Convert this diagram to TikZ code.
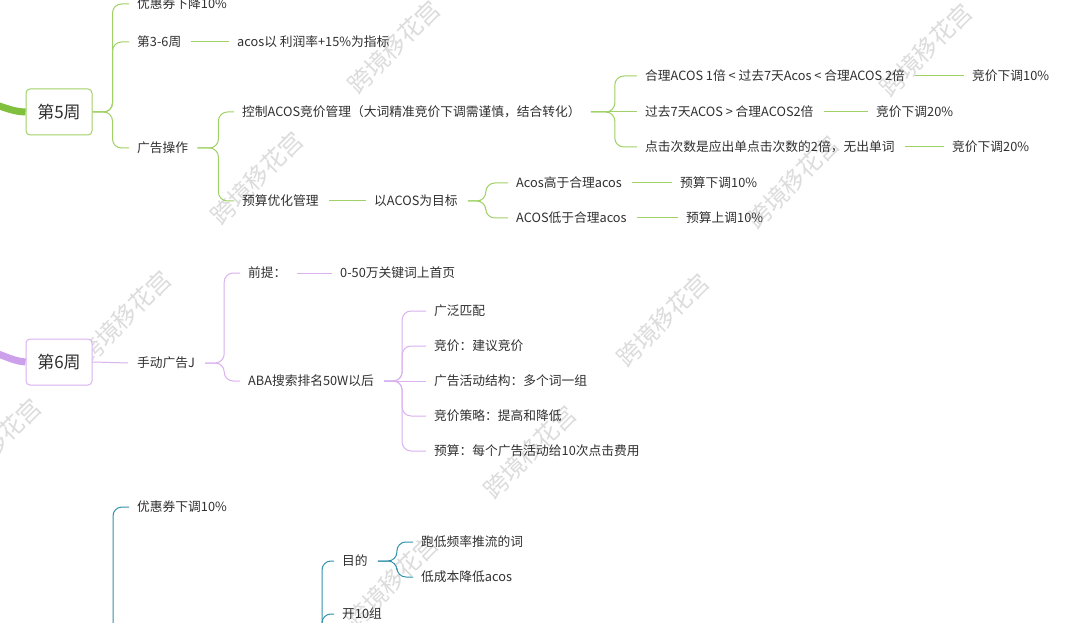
\documentclass[tikz,border=0pt]{standalone}
\usepackage{fontspec}
\newfontfamily\cjk{Noto Sans CJK SC}
\definecolor{txt}{RGB}{48,48,48}
\definecolor{gline}{RGB}{160,209,102}
\definecolor{gthick}{RGB}{128,192,60}
\definecolor{pline}{RGB}{218,178,240}
\definecolor{pthick}{RGB}{205,160,235}
\definecolor{tline}{RGB}{52,146,172}
\definecolor{wmc}{RGB}{220,220,220}
\tikzset{
  every node/.style={font=\cjk\fontsize{12.75}{15}\selectfont, text=txt},
  lbl/.style={anchor=west, inner sep=0pt, text height=11.2pt, text depth=1.55pt},
  wbox/.style={draw=#1, fill=white, rounded corners=4pt, line width=1pt,
    minimum width=66pt, minimum height=46pt, inner sep=0pt,
    font=\cjk\fontsize{17}{20}\selectfont},
  wm/.style={font=\cjk\fontsize{24}{24}\selectfont, text=wmc, rotate=45, inner sep=0pt},
  gl/.style={draw=gline, line width=1pt, rounded corners=9pt},
  pl/.style={draw=pline, line width=1pt, rounded corners=9pt},
  tl/.style={draw=tline, line width=1pt, rounded corners=9pt},
}
\begin{document}
\begin{tikzpicture}[x=1pt,y=-1pt]
\useasboundingbox (0,0) rectangle (1080,623);
\clip (0,0) rectangle (1080,623);
\fill[white] (0,0) rectangle (1080,623);

% watermarks
\node[wm] (m1) at (257,178) {跨境移花宫};
\node[wm] (m2) at (394,47) {跨境移花宫};
\node[wm] (m3) at (926,50) {跨境移花宫};
\node[wm] (m4) at (793,182) {跨境移花宫};
\node[wm] (m5) at (125,317) {跨境移花宫};
\node[wm] (m6) at (-5,445) {跨境移花宫};
\node[wm] (m7) at (663,320) {跨境移花宫};
\node[wm] (m8) at (530,452) {跨境移花宫};
\node[wm] (m9) at (392,582) {跨境移花宫};

% ---------- week 5 (green)
\node[wbox=gline] (w5) at (59,112) {第5周};
\node[lbl] (g1) at (137,4) {优惠券下降10\%};
\node[lbl] (g2) at (137,42) {第3-6周};
\node[lbl] (g3) at (237,42) {acos以 利润率+15\%为指标};
\node[lbl] (g4) at (137,148) {广告操作};
\node[lbl] (g5) at (242,112) {控制ACOS竞价管理（大词精准竞价下调需谨慎，结合转化）};
\node[lbl] (g6) at (645,76) {合理ACOS 1倍 < 过去7天Acos < 合理ACOS 2倍};
\node[lbl] (g7) at (972,76) {竞价下调10\%};
\node[lbl] (g8) at (645,112) {过去7天ACOS > 合理ACOS2倍};
\node[lbl] (g9) at (876,112) {竞价下调20\%};
\node[lbl] (g10) at (645,147) {点击次数是应出单点击次数的2倍，无出单词};
\node[lbl] (g11) at (952,147) {竞价下调20\%};
\node[lbl] (g12) at (242,201) {预算优化管理};
\node[lbl] (g13) at (374,201) {以ACOS为目标};
\node[lbl] (g14) at (516,183) {Acos高于合理acos};
\node[lbl] (g15) at (680,183) {预算下调10\%};
\node[lbl] (g16) at (516,218) {ACOS低于合理acos};
\node[lbl] (g17) at (686,218) {预算上调10\%};

\coordinate (g0) at (-40,95);
\draw[line width=7pt, gthick] (g0) .. controls (0,104) and (10,112) .. (w5.west);

\draw[gl] (w5.east) -- ++(20,0) |- ([xshift=-8pt]g1.west);
\draw[gl] (w5.east) -- ++(20,0) |- ([xshift=-8pt]g2.west);
\draw[gl] (w5.east) -- ++(20,0) |- ([xshift=-8pt]g4.west);
\draw[gl] ([xshift=10pt]g2.east) -- ([xshift=-8pt]g3.west);
\draw[gl] ([xshift=9pt]g4.east) -- ++(21,0) |- ([xshift=-8pt]g5.west);
\draw[gl] ([xshift=9pt]g4.east) -- ++(21,0) |- ([xshift=-8pt]g12.west);
\draw[gl] ([xshift=10pt]g5.east) -- ++(24,0) |- ([xshift=-8pt]g6.west);
\draw[gl] ([xshift=10pt]g5.east) -- ([xshift=-8pt]g8.west);
\draw[gl] ([xshift=10pt]g5.east) -- ++(24,0) |- ([xshift=-8pt]g10.west);
\draw[gl] ([xshift=10pt]g6.east) -- ([xshift=-8pt]g7.west);
\draw[gl] ([xshift=10pt]g8.east) -- ([xshift=-8pt]g9.west);
\draw[gl] ([xshift=10pt]g10.east) -- ([xshift=-8pt]g11.west);
\draw[gl] ([xshift=10pt]g12.east) -- ([xshift=-8pt]g13.west);
\draw[gl] ([xshift=10pt]g13.east) -- ++(18,0) |- ([xshift=-8pt]g14.west);
\draw[gl] ([xshift=10pt]g13.east) -- ++(18,0) |- ([xshift=-8pt]g16.west);
\draw[gl] ([xshift=10pt]g14.east) -- ([xshift=-8pt]g15.west);
\draw[gl] ([xshift=10pt]g16.east) -- ([xshift=-8pt]g17.west);

% ---------- week 6 (purple)
\node[wbox=pline] (w6) at (59,362) {第6周};
\node[lbl] (p1) at (137,363) {手动广告J};
\node[lbl] (p2) at (248,273) {前提：};
\node[lbl] (p3) at (340,273) {0-50万关键词上首页};
\node[lbl] (p4) at (248,381) {ABA搜索排名50W以后};
\node[lbl] (p5) at (434,311) {广泛匹配};
\node[lbl] (p6) at (434,346) {竞价：建议竞价};
\node[lbl] (p7) at (434,381) {广告活动结构：多个词一组};
\node[lbl] (p8) at (434,416) {竞价策略：提高和降低};
\node[lbl] (p9) at (434,451) {预算：每个广告活动给10次点击费用};

\coordinate (p0) at (-40,342);
\draw[line width=7pt, pthick] (p0) .. controls (0,352) and (10,361) .. (w6.west);

\draw[pl] (w6.east) -- ([xshift=-9pt]p1.west);
\draw[pl] ([xshift=10pt]p1.east) -- ++(19,0) |- ([xshift=-8pt]p2.west);
\draw[pl] ([xshift=10pt]p1.east) -- ++(19,0) |- ([xshift=-8pt]p4.west);
\draw[pl] ([xshift=10pt]p2.east) -- ([xshift=-8pt]p3.west);
\draw[pl] ([xshift=10pt]p4.east) -- ++(18,0) |- ([xshift=-8pt]p5.west);
\draw[pl] ([xshift=10pt]p4.east) -- ++(18,0) |- ([xshift=-8pt]p6.west);
\draw[pl] ([xshift=10pt]p4.east) -- ([xshift=-8pt]p7.west);
\draw[pl] ([xshift=10pt]p4.east) -- ++(18,0) |- ([xshift=-8pt]p8.west);
\draw[pl] ([xshift=10pt]p4.east) -- ++(18,0) |- ([xshift=-8pt]p9.west);

% ---------- week 7 (teal), parent below the picture
\node[lbl] (t1) at (137,507) {优惠券下调10\%};
\node[lbl] (t2) at (342,561) {目的};
\node[lbl] (t3) at (421,542) {跑低频率推流的词};
\node[lbl] (t4) at (421,577) {低成本降低acos};
\node[lbl] (t5) at (342,614) {开10组};

\coordinate (w7e) at (92,720);
\coordinate (s7e) at (300,690);
\draw[tl] (w7e) -- ++(21,0) |- ([xshift=-8pt]t1.west);
\draw[tl] (s7e) -- ++(22,0) |- ([xshift=-8pt]t2.west);
\draw[tl] (s7e) -- ++(22,0) |- ([xshift=-8pt]t5.west);
\draw[tl] ([xshift=10pt]t2.east) -- ++(19,0) |- ([xshift=-8pt]t3.west);
\draw[tl] ([xshift=10pt]t2.east) -- ++(19,0) |- ([xshift=-8pt]t4.west);
\end{tikzpicture}
\end{document}
